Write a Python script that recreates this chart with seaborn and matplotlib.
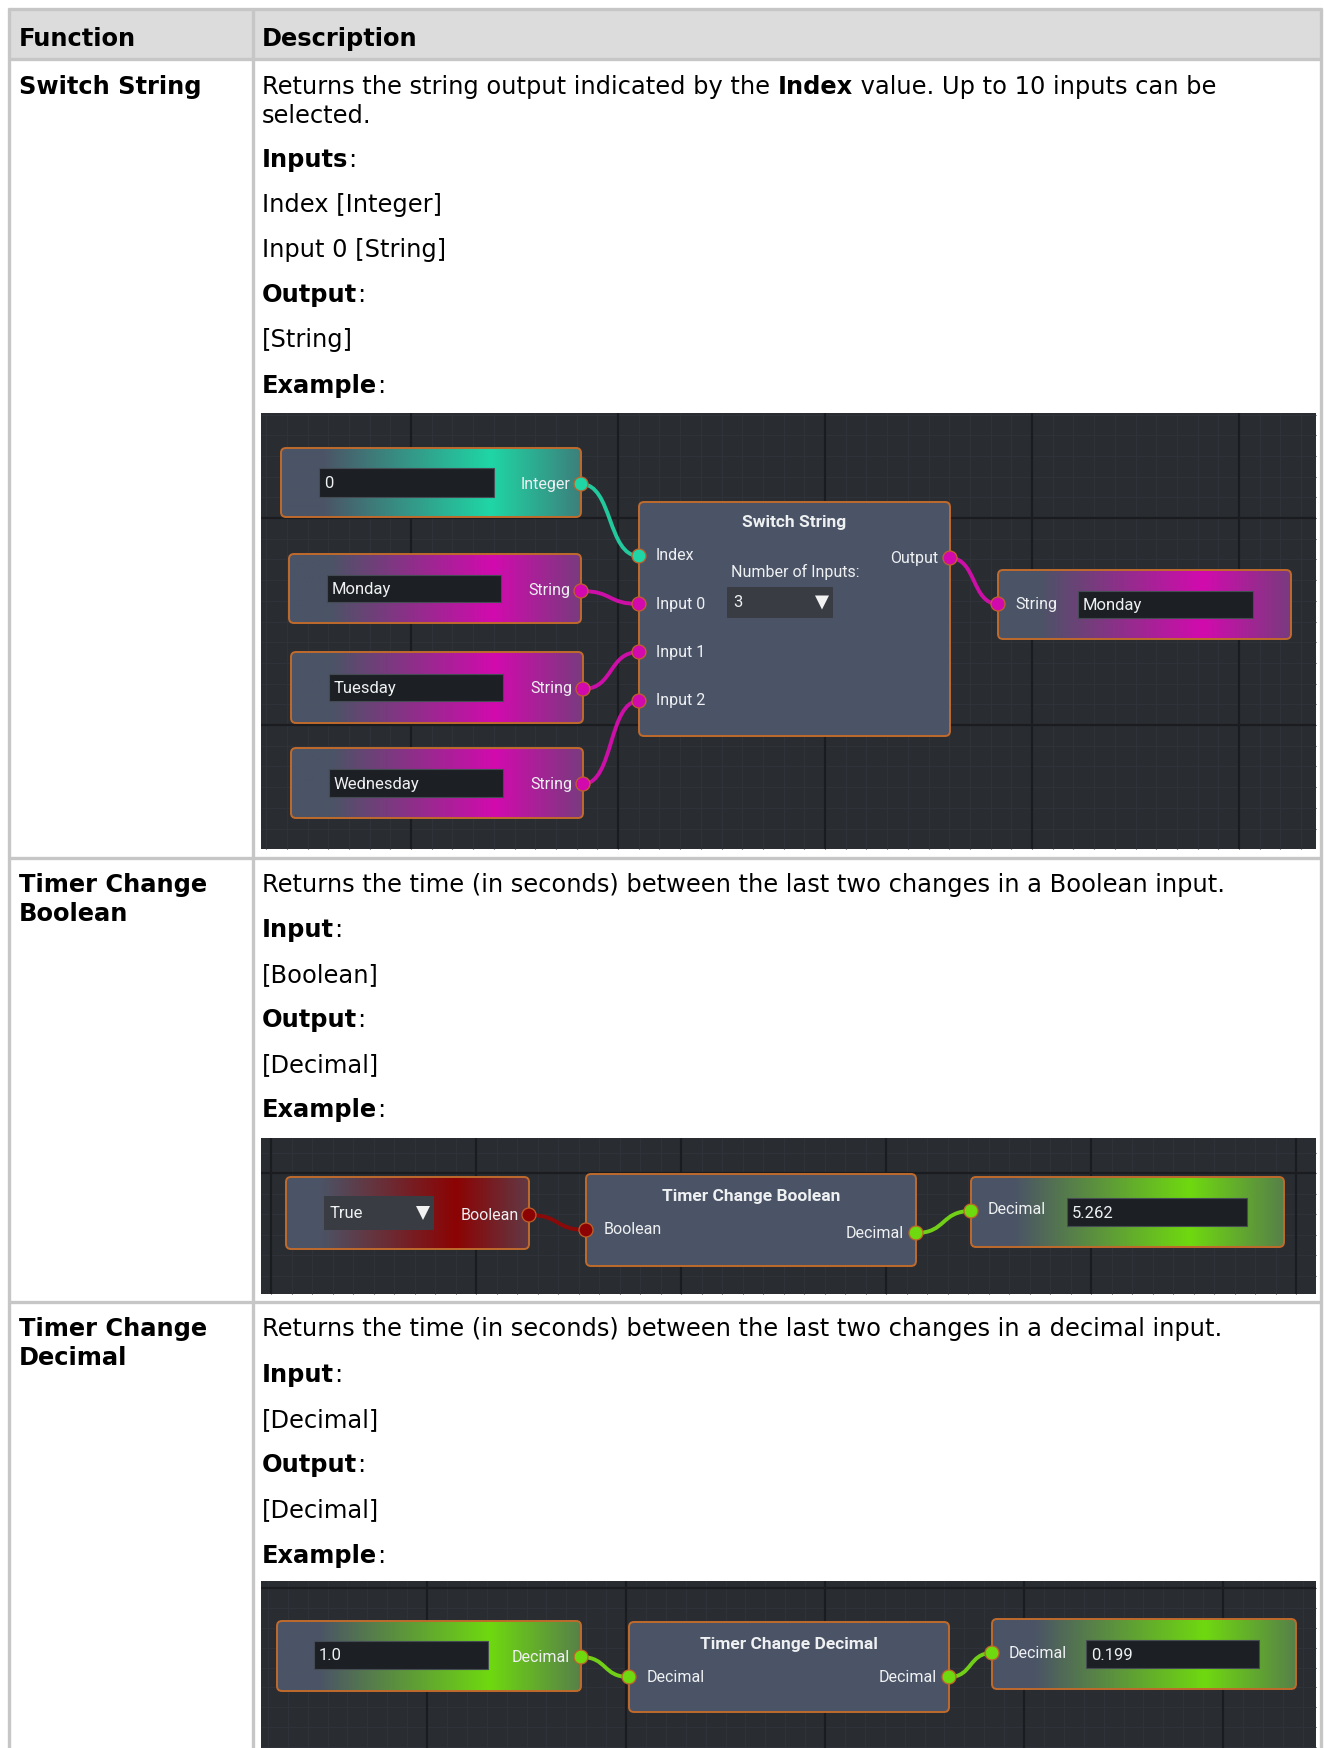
import numpy as np
import matplotlib
matplotlib.use("Agg")
import matplotlib.pyplot as plt
import matplotlib.colors as mcolors
import seaborn as sns
from matplotlib.patches import FancyBboxPatch, Rectangle, Circle, Polygon, PathPatch
from matplotlib.path import Path

W, H = 1324, 1748

# ---------------- table content ----------------
header_labels = ["Function", "Description"]
function_names = [["Switch String"], ["Timer Change", "Boolean"], ["Timer Change", "Decimal"]]
function_y = [[85], [883, 912], [1327, 1356]]

desc_lines = [
    [[("Returns the string output indicated by the ", False), ("Index", True),
      (" value. Up to 10 inputs can be", False)],
     [("selected.", False)],
     [("Inputs", True), (":", False)],
     [("Index [Integer]", False)],
     [("Input 0 [String]", False)],
     [("Output", True), (":", False)],
     [("[String]", False)],
     [("Example", True), (":", False)]],
    [[("Returns the time (in seconds) between the last two changes in a Boolean input.", False)],
     [("Input", True), (":", False)],
     [("[Boolean]", False)],
     [("Output", True), (":", False)],
     [("[Decimal]", False)],
     [("Example", True), (":", False)]],
    [[("Returns the time (in seconds) between the last two changes in a decimal input.", False)],
     [("Input", True), (":", False)],
     [("[Decimal]", False)],
     [("Output", True), (":", False)],
     [("[Decimal]", False)],
     [("Example", True), (":", False)]],
]
desc_y = [[85, 114, 158, 203, 248, 293, 338, 384],
          [883, 928, 973, 1018, 1063, 1108],
          [1327, 1373, 1418, 1463, 1508, 1554]]

row_tops = [59, 858, 1302]

# ---------------- example screenshots ----------------
ex_boxes = [(261, 413, 1316, 849), (261, 1138, 1316, 1294), (261, 1581, 1316, 1748)]
ex_major_x0 = [411, 271, 427]
ex_major_y0 = [518, 1173, 1588]
ex_major_step = [207, 205, 199]

# value nodes: x0, y0, x1, y1, colour
value_nodes = [
    (281, 448, 581, 517, "teal"), (289, 554, 581, 623, "magenta"),
    (291, 652, 583, 723, "magenta"), (291, 748, 583, 818, "magenta"),
    (998, 570, 1291, 639, "magenta"),
    (286, 1177, 529, 1249, "red"), (971, 1177, 1284, 1247, "green"),
    (277, 1621, 581, 1691, "green"), (992, 1619, 1296, 1689, "green"),
]
# function nodes: x0, y0, x1, y1, title, title_y
func_nodes = [
    (639, 502, 950, 736, "Switch String", 523),
    (586, 1174, 916, 1266, "Timer Change Boolean", 1197),
    (629, 1622, 949, 1712, "Timer Change Decimal", 1644),
]
# text fields: x0, y0, x1, y1, text
fields = [
    (319, 468, 494, 497, "0"), (327, 575, 501, 602, "Monday"),
    (329, 674, 503, 701, "Tuesday"), (329, 769, 503, 797, "Wednesday"),
    (1078, 591, 1253, 618, "Monday"),
    (1067, 1198, 1247, 1226, "5.262"),
    (314, 1641, 488, 1669, "1.0"), (1086, 1640, 1259, 1668, "0.199"),
]
dropdowns = [(727, 587, 833, 618, "3"), (324, 1196, 434, 1230, "True")]
# port labels: text, x, y, align
port_labels = [
    ("Integer", 570, 484, "right"), ("String", 570, 591, "right"),
    ("String", 572, 689, "right"), ("String", 572, 784, "right"),
    ("Index", 656, 556, "left"), ("Input 0", 656, 604, "left"),
    ("Input 1", 656, 652, "left"), ("Input 2", 656, 701, "left"),
    ("Number of Inputs:", 731, 572, "left"), ("Output", 938, 558, "right"),
    ("String", 1015, 604, "left"),
    ("Boolean", 519, 1215, "right"), ("Boolean", 604, 1229, "left"),
    ("Decimal", 904, 1233, "right"), ("Decimal", 988, 1210, "left"),
    ("Decimal", 570, 1657, "right"), ("Decimal", 647, 1677, "left"),
    ("Decimal", 937, 1678, "right"), ("Decimal", 1009, 1653, "left"),
]
# wires: start port, end port, colour
wires = [
    ((581, 484), (639, 556), "teal"), ((581, 591), (639, 604), "magenta"),
    ((583, 689), (639, 652), "magenta"), ((583, 784), (639, 701), "magenta"),
    ((950, 558), (998, 604), "magenta"),
    ((529, 1215), (586, 1230), "red"), ((916, 1233), (971, 1211), "green"),
    ((581, 1657), (629, 1677), "green"), ((949, 1677), (992, 1653), "green"),
]

type_colors = {"teal": "#1fd6a6", "magenta": "#d20aae", "red": "#8c0303", "green": "#6fd90f"}
wire_colors = {"teal": "#22c99d", "magenta": "#cc0fa6", "red": "#8a0a0a", "green": "#72cf18"}

CANVAS = "#292c31"
MINOR = "#2f3339"
MAJOR = "#1a1c1f"
NODE = "#4b5466"
BORDER = "#c06a2c"
FIELD = "#1c1f23"
DROP = "#393d43"
TABLE_LINE = "#c6c6c6"
HEADER_BG = "#dcdcdc"

sns.set_theme(style="white")
plt.rcParams["font.family"] = ["DejaVu Sans"]
node_font = ["Liberation Sans Narrow", "Roboto", "DejaVu Sans"]

fig = plt.figure(figsize=(W / 100, H / 100), dpi=100)
ax = fig.add_axes([0, 0, 1, 1])
ax.set_xlim(0, W)
ax.set_ylim(H, 0)
ax.axis("off")

# ---------------- table frame ----------------
ax.add_patch(Rectangle((8, 8), 1314, 51, facecolor=HEADER_BG, edgecolor="none"))
for y in [9, 59] + row_tops[1:]:
    ax.plot([8, 1322], [y, y], color=TABLE_LINE, lw=2.4, solid_capstyle="butt")
for x in [9, 253, 1321]:
    ax.plot([x, x], [8, H], color=TABLE_LINE, lw=2.4, solid_capstyle="butt")

FS = 17.4
INK = "black"
ax.text(19, 46, header_labels[0], fontsize=FS, fontweight="bold", va="baseline", color=INK)
ax.text(262, 46, header_labels[1], fontsize=FS, fontweight="bold", va="baseline", color=INK)

for names, ys in zip(function_names, function_y):
    for name, y in zip(names, ys):
        ax.text(19, y + 9, name, fontsize=FS, fontweight="bold", va="baseline", color=INK)

fig.canvas.draw()
renderer = fig.canvas.get_renderer()
for lines, ys in zip(desc_lines, desc_y):
    for segs, y in zip(lines, ys):
        x = 262
        for s, bold in segs:
            t = ax.text(x, y + 9, s, fontsize=FS, va="baseline", color=INK,
                        fontweight="bold" if bold else "normal")
            x = t.get_window_extent(renderer=renderer).x1


# ---------------- node graph helpers ----------------
def gradient_fill(x0, y0, x1, y1, color):
    patch = FancyBboxPatch((x0, y0), x1 - x0, y1 - y0,
                           boxstyle="round,pad=0,rounding_size=5",
                           facecolor=NODE, edgecolor="none", zorder=3)
    ax.add_patch(patch)
    gray = np.array(mcolors.to_rgb(NODE))
    peak = np.array(mcolors.to_rgb(type_colors[color]))
    tail = np.array(sns.blend_palette([NODE, type_colors[color]], 10)[3])
    t = np.linspace(0, 1, 300)
    stops = [0, 0.14, 0.7, 1.0]
    cols = np.stack([gray, gray, peak, tail])
    row = np.stack([np.interp(t, stops, cols[:, c]) for c in range(3)], axis=-1)
    im = ax.imshow(row[None, :, :], extent=(x0, x1, y1, y0), aspect="auto",
                   interpolation="bilinear", zorder=3.1)
    im.set_clip_path(patch)
    ax.add_patch(FancyBboxPatch((x0, y0), x1 - x0, y1 - y0,
                                boxstyle="round,pad=0,rounding_size=5",
                                facecolor="none", edgecolor=BORDER, lw=1.4, zorder=3.2))


def node_text(x, y, s, ha="left", weight="normal", size=11):
    ax.text(x, y, s, ha=ha, va="center", color="#eef0f2", fontsize=size,
            fontweight=weight, family=node_font, zorder=6)


# ---------------- canvases ----------------
for (x0, y0, x1, y1), mx0, my0, step in zip(ex_boxes, ex_major_x0, ex_major_y0, ex_major_step):
    ax.add_patch(Rectangle((x0, y0), x1 - x0, y1 - y0, facecolor=CANVAS, edgecolor="none", zorder=1))
    minor = step / 10
    xs = np.arange(mx0 - 10 * step, x1, minor)
    xs = xs[(xs > x0) & (xs < x1)]
    ys = np.arange(my0 - 10 * step, y1, minor)
    ys = ys[(ys > y0) & (ys < y1)]
    ax.vlines(xs, y0, y1, color=MINOR, lw=0.8, zorder=1.2)
    ax.hlines(ys, x0, x1, color=MINOR, lw=0.8, zorder=1.2)
    bx = np.arange(mx0 - 10 * step, x1, step)
    bx = bx[(bx > x0) & (bx < x1)]
    by = np.arange(my0 - 10 * step, y1, step)
    by = by[(by > y0) & (by < y1)]
    ax.vlines(bx, y0, y1, color=MAJOR, lw=1.6, zorder=1.3)
    ax.hlines(by, x0, x1, color=MAJOR, lw=1.6, zorder=1.3)

# wires
for (xa, ya), (xb, yb), c in wires:
    dx = (xb - xa) * 0.55
    path = Path([(xa, ya), (xa + dx, ya), (xb - dx, yb), (xb, yb)],
                [Path.MOVETO, Path.CURVE4, Path.CURVE4, Path.CURVE4])
    ax.add_patch(PathPatch(path, facecolor="none", edgecolor=wire_colors[c], lw=2.8, zorder=2.5,
                           capstyle="round"))

for x0, y0, x1, y1, c in value_nodes:
    gradient_fill(x0, y0, x1, y1, c)

for x0, y0, x1, y1, title, ty in func_nodes:
    ax.add_patch(FancyBboxPatch((x0, y0), x1 - x0, y1 - y0,
                                boxstyle="round,pad=0,rounding_size=5",
                                facecolor=NODE, edgecolor=BORDER, lw=1.4, zorder=3))
    node_text((x0 + x1) / 2, ty, title, ha="center", weight="bold", size=12.5)

for x0, y0, x1, y1, s in fields:
    ax.add_patch(Rectangle((x0, y0), x1 - x0, y1 - y0, facecolor=FIELD,
                           edgecolor="#454b53", lw=0.8, zorder=4))
    node_text(x0 + 5, (y0 + y1) / 2 + 1, s, size=12)

for x0, y0, x1, y1, s in dropdowns:
    ax.add_patch(Rectangle((x0, y0), x1 - x0, y1 - y0, facecolor=DROP, edgecolor="none", zorder=4))
    node_text(x0 + 6, (y0 + y1) / 2, s, size=12)
    cx, cy = x1 - 11, (y0 + y1) / 2
    ax.add_patch(Polygon([(cx - 7, cy - 7), (cx + 7, cy - 7), (cx, cy + 7)],
                         closed=True, facecolor="#f2f2f2", edgecolor="none", zorder=5))

for s, x, y, ha in port_labels:
    node_text(x, y, s, ha=ha, size=11.5)

for (xa, ya), (xb, yb), c in wires:
    for px, py in [(xa, ya), (xb, yb)]:
        ax.add_patch(Circle((px, py), 7, facecolor=type_colors[c], edgecolor="#c0602a",
                            lw=0.9, zorder=7))

ax.set_xlim(0, W)
ax.set_ylim(H, 0)
fig.savefig("out.png", dpi=100, facecolor="white")
